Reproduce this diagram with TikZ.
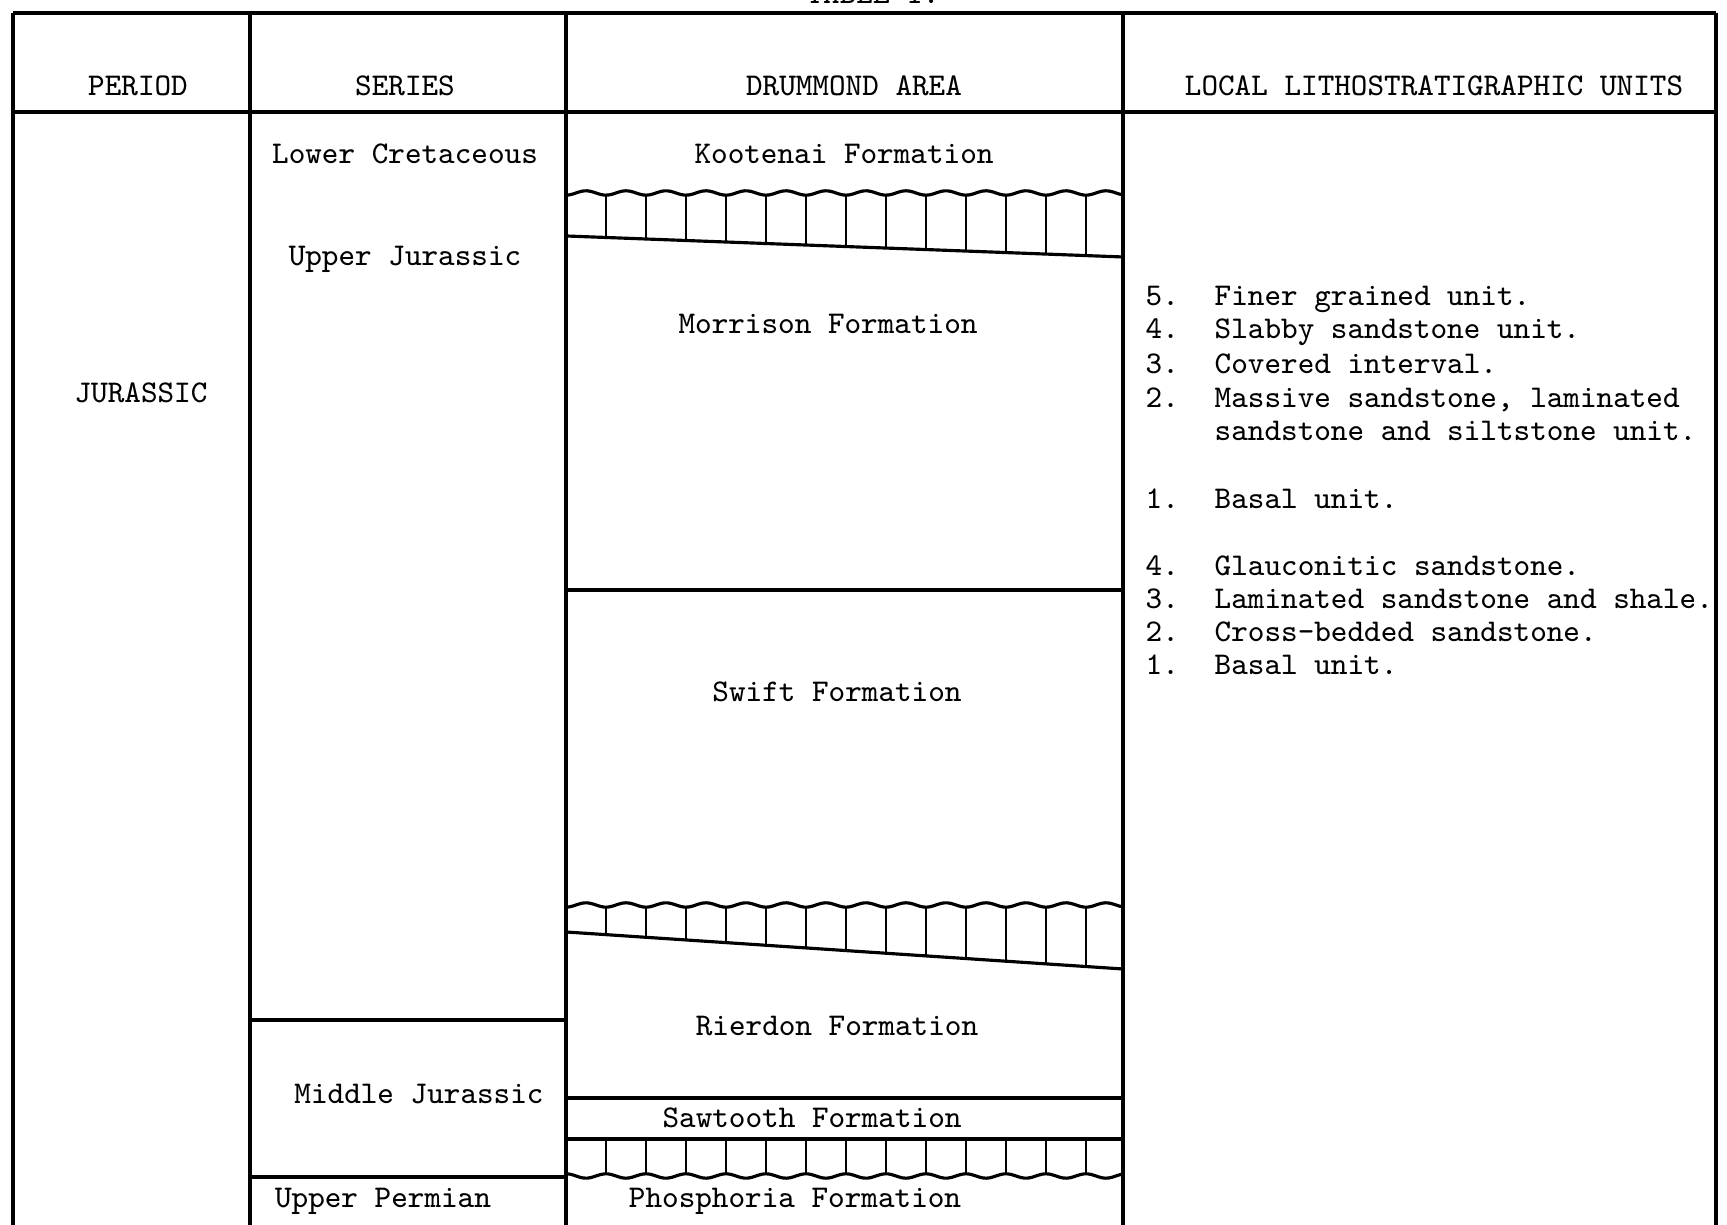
\documentclass[tikz,border=0pt]{standalone}
\usepackage{fontspec}
\usepackage{tikz}
\usetikzlibrary{calc}

\begin{document}
\begin{tikzpicture}[
    tblline/.style={line width=0.9pt},
    hatchline/.style={line width=0.6pt},
    typed/.style={font=\ttfamily\fontsize{9}{10}\selectfont, inner sep=0pt, text height=6pt, text depth=1.5pt},
    entry/.style={typed, anchor=west}
]

% page frame
\fill[white] (0,0) rectangle (17.27,12.25);
\useasboundingbox (0,0) rectangle (17.27,12.25);

% ==========================================
% TABLE FRAME
% ==========================================
\node[typed, anchor=base] (title) at (8.73,12.21) {TABLE 1.};

\draw[tblline] (0.13,12.12) -- (17.16,12.12);
\draw[tblline] (0.13,11.13) -- (17.16,11.13);
\foreach \x in {0.13,2.50,5.66,11.23,17.16}
    \draw[tblline] (\x,12.12) -- (\x,-0.1);

% Column heads
\node[typed] (period) at (1.38,11.37) {PERIOD};
\node[typed] (series) at (4.05,11.37) {SERIES};
\node[typed] (drummond) at (8.54,11.37) {DRUMMOND AREA};
\node[typed] (local) at (14.34,11.37) {LOCAL LITHOSTRATIGRAPHIC UNITS};

% ==========================================
% PERIOD and SERIES
% ==========================================
\node[typed] (jurassic) at (1.41,8.30) {JURASSIC};

\node[typed] (lowcret) at (4.05,10.69) {Lower Cretaceous};
\node[typed] (upjur) at (4.05,9.67) {Upper Jurassic};
\draw[tblline] (2.50,2.05) -- (5.66,2.05);
\node[typed] (midjur) at (4.19,1.29) {Middle Jurassic};
\draw[tblline] (2.50,0.48) -- (5.66,0.48);
\node[typed] (upperm) at (3.83,0.25) {Upper Permian};

% ==========================================
% DRUMMOND AREA column
% ==========================================
\node[typed] (kootenai) at (8.44,10.69) {Kootenai Formation};

% Kootenai / Morrison unconformity
\draw[tblline] plot[domain=5.66:11.23, samples=160] (\x, {10.32-0.022*cos(360*(\x-5.66)/0.40)});
\draw[tblline] (5.66,9.89) -- (11.23,9.68);
\foreach \x in {6.06,6.46,...,11.0} {
    \pgfmathsetmacro\yb{9.89-0.21*(\x-5.66)/5.57}
    \draw[hatchline] (\x,10.298) -- (\x,\yb);
}

\node[typed] (morrison) at (8.28,8.99) {Morrison Formation};
\draw[tblline] (5.66,6.35) -- (11.23,6.35);
\node[typed] (swift) at (8.37,5.31) {Swift Formation};

% Swift / Rierdon unconformity
\draw[tblline] plot[domain=5.66:11.23, samples=160] (\x, {3.20-0.022*cos(360*(\x-5.66)/0.40)});
\draw[tblline] (5.66,2.93) -- (11.23,2.56);
\foreach \x in {6.06,6.46,...,11.0} {
    \pgfmathsetmacro\yb{2.93-0.37*(\x-5.66)/5.57}
    \draw[hatchline] (\x,3.178) -- (\x,\yb);
}

\node[typed] (rierdon) at (8.37,1.97) {Rierdon Formation};
\draw[tblline] (5.66,1.27) -- (11.23,1.27);
\node[typed] (sawtooth) at (8.12,1.05) {Sawtooth Formation};

% Sawtooth / Phosphoria unconformity
\draw[line width=1.2pt] (5.66,0.86) -- (11.23,0.86);
\draw[tblline] plot[domain=5.66:11.23, samples=160] (\x, {0.49+0.022*cos(360*(\x-5.66)/0.40)});
\foreach \x in {6.06,6.46,...,11.0}
    \draw[hatchline] (\x,0.86) -- (\x,0.512);

\node[typed] (phosphoria) at (7.95,0.25) {Phosphoria Formation};

% ==========================================
% LOCAL UNITS column
% ==========================================
\node[entry] (m5n) at (11.45,9.27) {5.};
\node[entry] (m5) at (12.14,9.27) {Finer grained unit.};
\node[entry] (m4n) at (11.45,8.94) {4.};
\node[entry] (m4) at (12.14,8.94) {Slabby sandstone unit.};
\node[entry] (m3n) at (11.45,8.59) {3.};
\node[entry] (m3) at (12.14,8.59) {Covered interval.};
\node[entry] (m2n) at (11.45,8.25) {2.};
\node[entry] (m2) at (12.14,8.25) {Massive sandstone, laminated};
\node[entry] (m2b) at (12.14,7.92) {sandstone and siltstone unit.};
\node[entry] (m1n) at (11.45,7.24) {1.};
\node[entry] (m1) at (12.14,7.24) {Basal unit.};

\node[entry] (s4n) at (11.45,6.57) {4.};
\node[entry] (s4) at (12.14,6.57) {Glauconitic sandstone.};
\node[entry] (s3n) at (11.45,6.24) {3.};
\node[entry] (s3) at (12.14,6.24) {Laminated sandstone and shale.};
\node[entry] (s2n) at (11.45,5.91) {2.};
\node[entry] (s2) at (12.14,5.91) {Cross-bedded sandstone.};
\node[entry] (s1n) at (11.45,5.58) {1.};
\node[entry] (s1) at (12.14,5.58) {Basal unit.};

\end{tikzpicture}
\end{document}
